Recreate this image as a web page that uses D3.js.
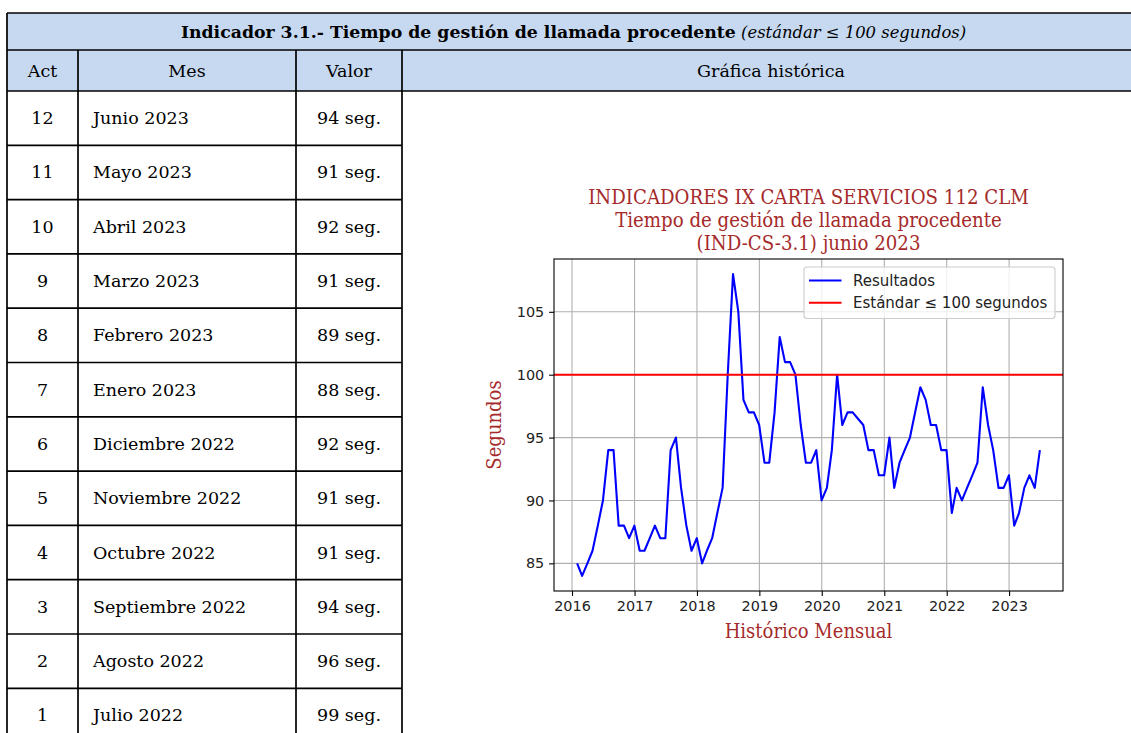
<!DOCTYPE html>
<html><head><meta charset="utf-8">
<script src="https://cdn.jsdelivr.net/npm/d3@7"></script>
<style>
body{margin:0;background:#fff}
svg{display:block}
.cond{font-family:'DejaVu Serif Condensed','DejaVu Serif',serif;font-stretch:condensed}
</style>
</head><body>
<svg id="c" width="1131" height="733"></svg>
<script>
// ---------- table data ----------
const acts = [12, 11, 10, 9, 8, 7, 6, 5, 4, 3, 2, 1];
const meses = ["Junio 2023", "Mayo 2023", "Abril 2023", "Marzo 2023", "Febrero 2023", "Enero 2023",
  "Diciembre 2022", "Noviembre 2022", "Octubre 2022", "Septiembre 2022", "Agosto 2022", "Julio 2022"];
const valores = [94, 91, 92, 91, 89, 88, 92, 91, 91, 94, 96, 99];
const unidad = "seg.";
const headerTitle = "Indicador 3.1.- Tiempo de gestión de llamada procedente";
const headerNote = " (estándar ≤ 100 segundos)";
const columnHeaders = ["Act", "Mes", "Valor", "Gráfica histórica"];

// ---------- chart data ----------
const chartTitle = ["INDICADORES IX CARTA SERVICIOS 112 CLM", "Tiempo de gestión de llamada procedente", "(IND-CS-3.1) junio 2023"];
const xLabel = "Histórico Mensual";
const yLabel = "Segundos";
const legendLabels = ["Resultados", "Estándar ≤ 100 segundos"];
const estandar = 100;
const startYear = 2016, startMonth = 0; // monthly series, January 2016 .. June 2023
const res2016 = [85, 84, 85, 86, 88, 90, 94, 94, 88, 88, 87, 88];
const res2017 = [86, 86, 87, 88, 87, 87, 94, 95, 91, 88, 86, 87];
const res2018 = [85, 86, 87, 89, 91, 100, 108, 105, 98, 97, 97, 96];
const res2019 = [93, 93, 97, 103, 101, 101, 100, 96, 93, 93, 94, 90];
const res2020 = [91, 94, 100, 96, 97, 97, 96.5, 96, 94, 94, 92, 92];
const res2021 = [95, 91, 93, 94, 95, 97, 99, 98, 96, 96, 94, 94];
const res2022 = [89, 91, 90, 91, 92, 93, 99, 96, 94, 91, 91, 92];
const res2023 = [88, 89, 91, 92, 91, 94];
const xTickYears = [2016, 2017, 2018, 2019, 2020, 2021, 2022, 2023];
const yTickValues = [85, 90, 95, 100, 105];

const resultados = [].concat(res2016, res2017, res2018, res2019, res2020, res2021, res2022, res2023);
// month-end dates
const series = resultados.map((v, i) => ({
  date: d3.utcDay.offset(d3.utcMonth.offset(new Date(Date.UTC(startYear, startMonth, 1)), i + 1), -1),
  value: v
}));

const svg = d3.select("#c");
svg.append("rect").attr("width", 1131).attr("height", 733).attr("fill", "#fff");

// ---------- table ----------
const colX = [7, 78, 296, 402, 1140];
const yTop = 13, yH1 = 50, yH2 = 91, rowH = 54.3;
const tableFont = "'DejaVu Serif', serif";
const bw = 1.7;

svg.append("rect").attr("x", colX[0]).attr("y", yTop).attr("width", colX[4] - colX[0]).attr("height", yH2 - yTop)
  .attr("fill", "#c6d9f1");

const g = svg.append("g").attr("stroke", "#000").attr("stroke-width", bw);
[yTop, yH1, yH2].forEach(y => g.append("line").attr("x1", colX[0]).attr("x2", colX[4]).attr("y1", y).attr("y2", y));
d3.range(1, acts.length + 1).forEach(k => {
  const y = yH2 + rowH * k;
  g.append("line").attr("x1", colX[0]).attr("x2", colX[3]).attr("y1", y).attr("y2", y);
});
g.append("line").attr("x1", colX[0]).attr("x2", colX[0]).attr("y1", yTop).attr("y2", 760);
[colX[1], colX[2], colX[3]].forEach(x => g.append("line").attr("x1", x).attr("x2", x).attr("y1", yH1).attr("y2", 760));

const ht = svg.append("text").attr("x", (colX[0] + colX[4]) / 2).attr("y", (yTop + yH1) / 2)
  .attr("text-anchor", "middle").attr("dominant-baseline", "central")
  .style("font-family", tableFont).attr("fill", "#000");
ht.append("tspan").text(headerTitle).attr("font-weight", "bold").attr("font-size", 17.3);
ht.append("tspan").text(headerNote).attr("font-style", "italic").attr("font-size", 16.4);

columnHeaders.forEach((h, i) => {
  svg.append("text").attr("x", (colX[i] + colX[i + 1]) / 2).attr("y", (yH1 + yH2) / 2)
    .attr("text-anchor", "middle").attr("dominant-baseline", "central")
    .style("font-family", tableFont).attr("font-size", 17.5).text(h);
});

acts.forEach((a, k) => {
  const cy = yH2 + rowH * (k + 0.5);
  svg.append("text").attr("x", (colX[0] + colX[1]) / 2).attr("y", cy).attr("text-anchor", "middle")
    .attr("dominant-baseline", "central").style("font-family", tableFont).attr("font-size", 17.5).text(a);
  svg.append("text").attr("x", colX[1] + 15).attr("y", cy)
    .attr("dominant-baseline", "central").style("font-family", tableFont).attr("font-size", 17.5).text(meses[k]);
  svg.append("text").attr("x", (colX[2] + colX[3]) / 2).attr("y", cy).attr("text-anchor", "middle")
    .attr("dominant-baseline", "central").style("font-family", tableFont).attr("font-size", 17.5)
    .text(valores[k] + " " + unidad);
});

// ---------- chart ----------
const M = {l: 554, r: 1063, t: 259, b: 591};
const brown = "#a52a2a";
const ext = d3.extent(series, d => d.date);
const span = ext[1] - ext[0];
const x = d3.scaleUtc().domain([new Date(+ext[0] - 0.05 * span), new Date(+ext[1] + 0.05 * span)]).range([M.l, M.r]);
const yExt = d3.extent(resultados);
const ySpan = yExt[1] - yExt[0];
const y = d3.scaleLinear().domain([yExt[0] - 0.05 * ySpan, yExt[1] + 0.05 * ySpan]).range([M.b, M.t]);

const xTicks = xTickYears.map(yr => new Date(Date.UTC(yr, 0, 1)));
const chart = svg.append("g");

// grid
chart.append("g").selectAll("line").data(xTicks).join("line")
  .attr("x1", d => x(d)).attr("x2", d => x(d)).attr("y1", M.t).attr("y2", M.b)
  .attr("stroke", "#b0b0b0").attr("stroke-width", 1.1);
chart.append("g").selectAll("line").data(yTickValues).join("line")
  .attr("x1", M.l).attr("x2", M.r).attr("y1", d => y(d)).attr("y2", d => y(d))
  .attr("stroke", "#b0b0b0").attr("stroke-width", 1.1);

// series
const line = d3.line().x(d => x(d.date)).y(d => y(d.value));
chart.append("path").datum(series).attr("d", line).attr("fill", "none")
  .attr("stroke", "#0000ff").attr("stroke-width", 2.1).attr("stroke-linejoin", "round");
chart.append("line").attr("x1", M.l).attr("x2", M.r).attr("y1", y(estandar)).attr("y2", y(estandar))
  .attr("stroke", "#ff0000").attr("stroke-width", 2.1);

// spines
chart.append("rect").attr("x", M.l).attr("y", M.t).attr("width", M.r - M.l).attr("height", M.b - M.t)
  .attr("fill", "none").attr("stroke", "#000").attr("stroke-width", 1.1);

// axes
const xAxis = d3.axisBottom(x).tickValues(xTicks).tickFormat(d3.utcFormat("%Y")).tickSize(4.9).tickPadding(4.5);
const gx = chart.append("g").attr("transform", `translate(0,${M.b})`).call(xAxis);
const yAxis = d3.axisLeft(y).tickValues(yTickValues).tickSize(4.9).tickPadding(4.9);
const gy = chart.append("g").attr("transform", `translate(${M.l},0)`).call(yAxis);
[gx, gy].forEach(ax => {
  ax.select(".domain").remove();
  ax.selectAll(".tick line").attr("stroke", "#000").attr("stroke-width", 1.1);
  ax.selectAll(".tick text").attr("fill", "#222").style("font-family", "'DejaVu Sans', sans-serif").attr("font-size", 14.4);
});

// titles
const cx = (M.l + M.r) / 2;
const tt = chart.append("text").attr("class", "cond").attr("text-anchor", "middle").attr("fill", brown).attr("font-size", 20.2);
chartTitle.forEach((s, i) => tt.append("tspan").attr("x", cx).attr("y", 204 + i * 23).text(s));
chart.append("text").attr("class", "cond").attr("x", cx).attr("y", 638).attr("text-anchor", "middle")
  .attr("fill", brown).attr("font-size", 20).text(xLabel);
chart.append("text").attr("class", "cond").attr("transform", `translate(501,${(M.t + M.b) / 2}) rotate(-90)`)
  .attr("text-anchor", "middle").attr("fill", brown).attr("font-size", 20).text(yLabel);

// legend
const L = {x: M.r - 8 - 251, y: M.t + 8, w: 251, h: 51.5};
const lg = chart.append("g");
lg.append("rect").attr("x", L.x).attr("y", L.y).attr("width", L.w).attr("height", L.h).attr("rx", 3)
  .attr("fill", "#fff").attr("fill-opacity", 0.8).attr("stroke", "#cccccc").attr("stroke-width", 1.1);
const legColors = ["#0000ff", "#ff0000"];
legendLabels.forEach((s, i) => {
  const ly = L.y + 13.5 + i * 22.3;
  lg.append("line").attr("x1", L.x + 5).attr("x2", L.x + 37.5).attr("y1", ly).attr("y2", ly)
    .attr("stroke", legColors[i]).attr("stroke-width", 2.1);
  lg.append("text").attr("x", L.x + 49).attr("y", ly).attr("dominant-baseline", "central")
    .style("font-family", "'DejaVu Sans', sans-serif").attr("font-size", 15).attr("fill", "#222").text(s);
});
</script>
</body></html>
